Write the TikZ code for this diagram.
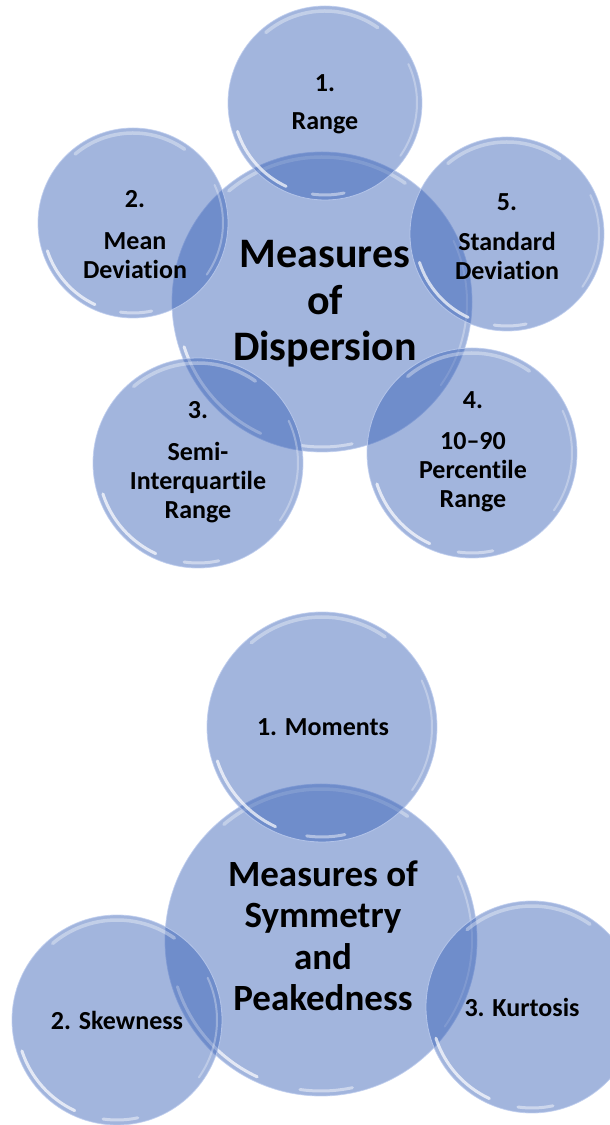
\documentclass[tikz,border=0pt]{standalone}
\usepackage{fontspec}
\setmainfont{Carlito}[Ligatures={NoCommon}, RawFeature={-liga;-dlig}]
\definecolor{bubfill}{RGB}{49,91,180}
\definecolor{bubrim}{RGB}{190,205,238}
\tikzset{
  bub/.style={circle, inner sep=0pt, fill=bubfill, fill opacity=0.45,
    draw=bubrim, draw opacity=0.8, line width=0.8pt},
  hitop/.style={draw=white, draw opacity=0.35, line width=3.5pt, line cap=round},
  hilow/.style={draw=white, draw opacity=0.7, line width=3pt, line cap=round},
  hiside/.style={draw=white, draw opacity=0.3, line width=2pt, line cap=round},
  sat/.style={font=\fontsize{26}{29}\selectfont\bfseries, align=center, text=black, inner sep=0pt},
  hubone/.style={font=\fontsize{42}{46.5}\selectfont\bfseries, align=center, text=black, inner sep=0pt},
  hubtwo/.style={font=\fontsize{37}{41.5}\selectfont\bfseries, align=center, text=black, inner sep=0pt}
}
\newcommand\bubble[4]{%
  \node[bub, minimum size=#4*2pt] (#1) at (#2,#3) {};
  \pgfmathsetmacro\rr{#4-5}%
  \draw[hitop] (#2,#3) ++(55:\rr) arc[start angle=55, end angle=130, radius=\rr];
  \draw[hilow] (#2,#3) ++(198:\rr) arc[start angle=198, end angle=245, radius=\rr];
  \draw[hilow, draw opacity=0.45] (#2,#3) ++(262:\rr) arc[start angle=262, end angle=282, radius=\rr];
  \draw[hiside] (#2,#3) ++(-35:\rr) arc[start angle=-35, end angle=25, radius=\rr];
}
\begin{document}
\begin{tikzpicture}[x=1pt, y=1pt]
\useasboundingbox (0,0) rectangle (610,1125);
\clip (0,0) rectangle (610,1125);
% ---- Measures of Dispersion ----
\bubble{hubA}{322}{823}{150}
\bubble{range}{325}{1022}{97}
\bubble{meandev}{133}{902}{95}
\bubble{stddev}{507}{891}{97}
\bubble{semi}{198}{662}{105}
\bubble{perc}{472}{672}{105}
\node[hubone] (thubA) at (325,821) {Measures\\of\\Dispersion};
\node[sat] (trange) at (325,1021) {1.\\[9pt]Range};
\node[sat] (tmeandev) at (135,890.5) {2.\\[13pt]Mean\\Deviation};
\node[sat] (tstddev) at (507,888.5) {5.\\[11pt]Standard\\Deviation};
\node[sat] (tsemi) at (198,662.5) {3.\\[13pt]Semi-\\Interquartile\\Range};
\node[sat] (tperc) at (473,673) {4.\\[12pt]10–90\\Percentile\\Range};
% ---- Measures of Symmetry and Peakedness ----
\bubble{hubB}{321}{185}{156}
\bubble{moments}{322}{398}{115}
\bubble{skew}{117}{105}{105}
\bubble{kurt}{532}{118}{106}
\node[hubtwo] (thubB) at (323,189) {Measures of\\Symmetry\\and\\Peakedness};
\node[sat] (tmoments) at (323,398) {1. Moments};
\node[sat] (tskew) at (117,105) {2. Skewness};
\node[sat] (tkurt) at (522,118) {3. Kurtosis};
\end{tikzpicture}
\end{document}
